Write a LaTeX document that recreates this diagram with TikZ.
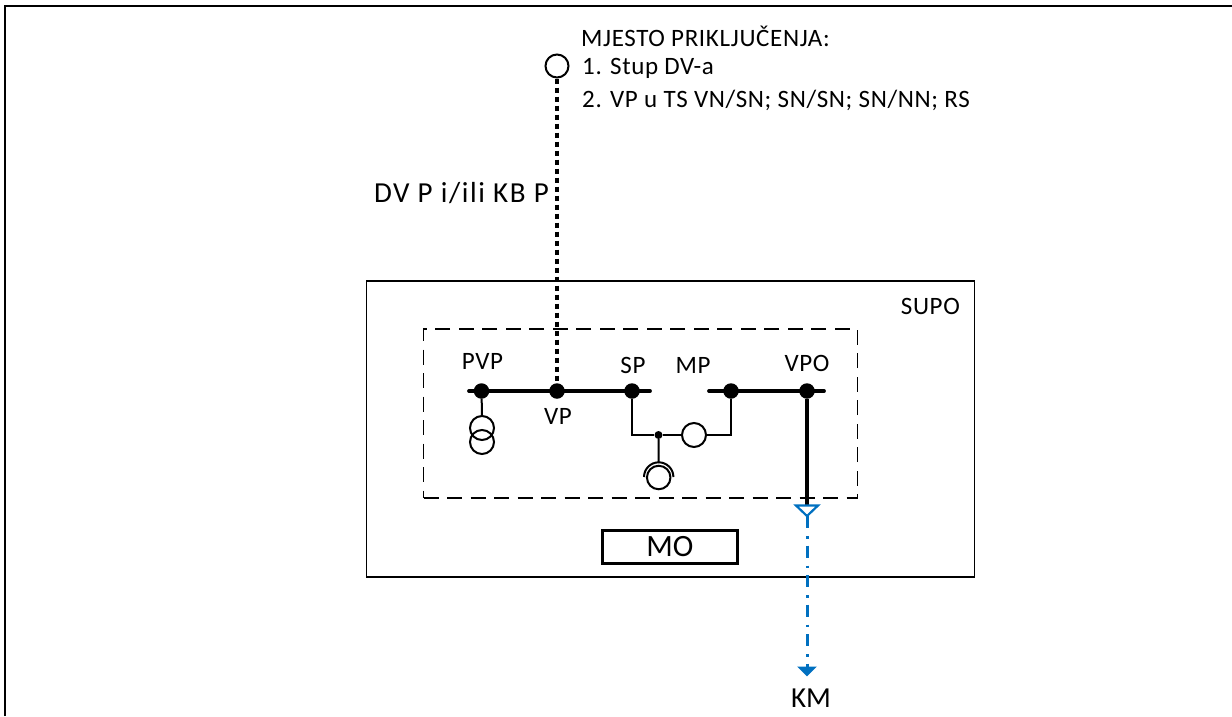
\documentclass[tikz,border=0pt]{standalone}
\usepackage{fontspec}
\setmainfont{Carlito}
\newfontfamily\sparse[LetterSpace=2.5]{Carlito}
\newfontfamily\sparsebig[LetterSpace=5.5]{Carlito}
\usetikzlibrary{arrows.meta}
\definecolor{kmblue}{RGB}{0,112,192}
\tikzset{
  x=1pt,y=-1pt,
  lbl/.style={inner sep=0pt,font=\sparse\fontsize{25pt}{30pt}\selectfont,text=black},
  biglbl/.style={inner sep=0pt,font=\fontsize{29pt}{34pt}\selectfont,text=black},
  molbl/.style={inner sep=0pt,font=\fontsize{31pt}{36pt}\selectfont,text=black},
  bigsparse/.style={inner sep=0pt,font=\sparsebig\fontsize{29pt}{34pt}\selectfont,text=black},
  bar/.style={line width=3.8pt,line cap=round},
  wire/.style={line width=2.4pt},
  jn/.style={circle,fill=black,draw=none,minimum size=15.5pt,inner sep=0pt},
  jnsmall/.style={circle,fill=black,draw=none,minimum size=8pt,inner sep=0pt},
  ring/.style={circle,draw=black,line width=2pt,fill=none,minimum size=#1,inner sep=0pt},
  frame/.style={draw=black,line width=1.7pt},
  dashframe/.style={draw=black,line width=1.8pt,dash pattern=on 15pt off 8.5pt},
}
\begin{document}
\begin{tikzpicture}
\useasboundingbox (0,0) rectangle (1232,716);
% outer frame (open at bottom and right)
\coordinate (ol) at (5,716); \coordinate (otl) at (5,6); \coordinate (otr) at (1232,6);
\draw[line width=2.4pt] (ol) -- (otl) -- (otr);
% boxes
\node[frame,minimum width=608pt,minimum height=296pt,inner sep=0pt] (supo) at (670.5,429) {};
\node[dashframe,draw,minimum width=434pt,minimum height=169pt,inner sep=0pt] (sw) at (640.5,413.5) {};
\node[draw=black,line width=2.4pt,minimum width=135pt,minimum height=33pt,inner sep=0pt,molbl] (mo) at (670,547) {MO};
% busbars
\coordinate (b1l) at (469,391); \coordinate (b1r) at (650,391);
\coordinate (b2l) at (709,391); \coordinate (b2r) at (824,391);
\draw[bar] (b1l) -- (b1r);
\draw[bar] (b2l) -- (b2r);
\node[jn] (pvp) at (481.5,391) {};
\node[jn] (vp) at (557,391) {};
\node[jn] (sp) at (632,391) {};
\node[jn] (mp) at (731,391) {};
\node[jn] (vpo) at (807,391) {};
% connection point and DV line
\node[ring=23pt] (top) at (557,66) {};
\draw[line width=3.6pt,dash pattern=on 5.5pt off 3.5pt] (top.south) -- (vp);
% transformer
\node[ring=24pt] (t1) at (482,428) {};
\node[ring=24pt] (t2) at (482,442) {};
\draw[line width=2pt] (pvp) -- (t1.north);
% SP - MP
\node[jnsmall] (mid) at (658.5,435) {};
\node[ring=24pt] (cb) at (694,435) {};
\coordinate (c1) at (632,435); \coordinate (c2) at (731,435);
\draw[wire,line join=miter] (sp) -- (c1) -- (mid) -- (cb.west);
\draw[wire,line join=miter] (cb.east) -- (c2) -- (mp);
% reactor
\node[ring=23.5pt] (re) at (658.7,477.5) {};
\coordinate (rt) at (658.7,463);
\draw[line width=2pt] (mid) -- (rt);
\draw[line width=2pt] (644,477) arc[start angle=180,end angle=0,radius=14.7pt];
% feeder
\coordinate (tri) at (807,505);
\coordinate (tl) at (796,505.5); \coordinate (tr) at (818,505.5); \coordinate (tb) at (807,516);
\draw[line width=3.4pt] (vpo) -- (tri);
\draw[kmblue,line width=2.2pt,line join=miter] (tl) -- (tr) -- (tb) -- cycle;
\coordinate (ae) at (807,676.5);
\draw[kmblue,line width=3pt,dash pattern=on 12pt off 8pt on 2.5pt off 7pt,-{Triangle[length=10pt,width=19pt]}] (tb) -- (ae);
% labels
\node[lbl,anchor=west] at (581,36) {MJESTO PRIKLJUČENJA:};
\node[lbl,anchor=west] at (582,68.5) {1. Stup DV-a};
\node[lbl,anchor=west] at (582,100) {2. VP u TS VN/SN; SN/SN; SN/NN; RS};
\node[bigsparse,anchor=east] at (549,193) {DV P i/ili KB P};
\node[lbl,anchor=east] at (960,306) {SUPO};
\node[lbl] at (482.5,361) {PVP};
\node[lbl] at (633,365) {SP};
\node[lbl] at (693,365) {MP};
\node[lbl] at (807,363.5) {VPO};
\node[lbl] at (558,416.5) {VP};
\node[biglbl] at (811,698) {KM};
\end{tikzpicture}
\end{document}
